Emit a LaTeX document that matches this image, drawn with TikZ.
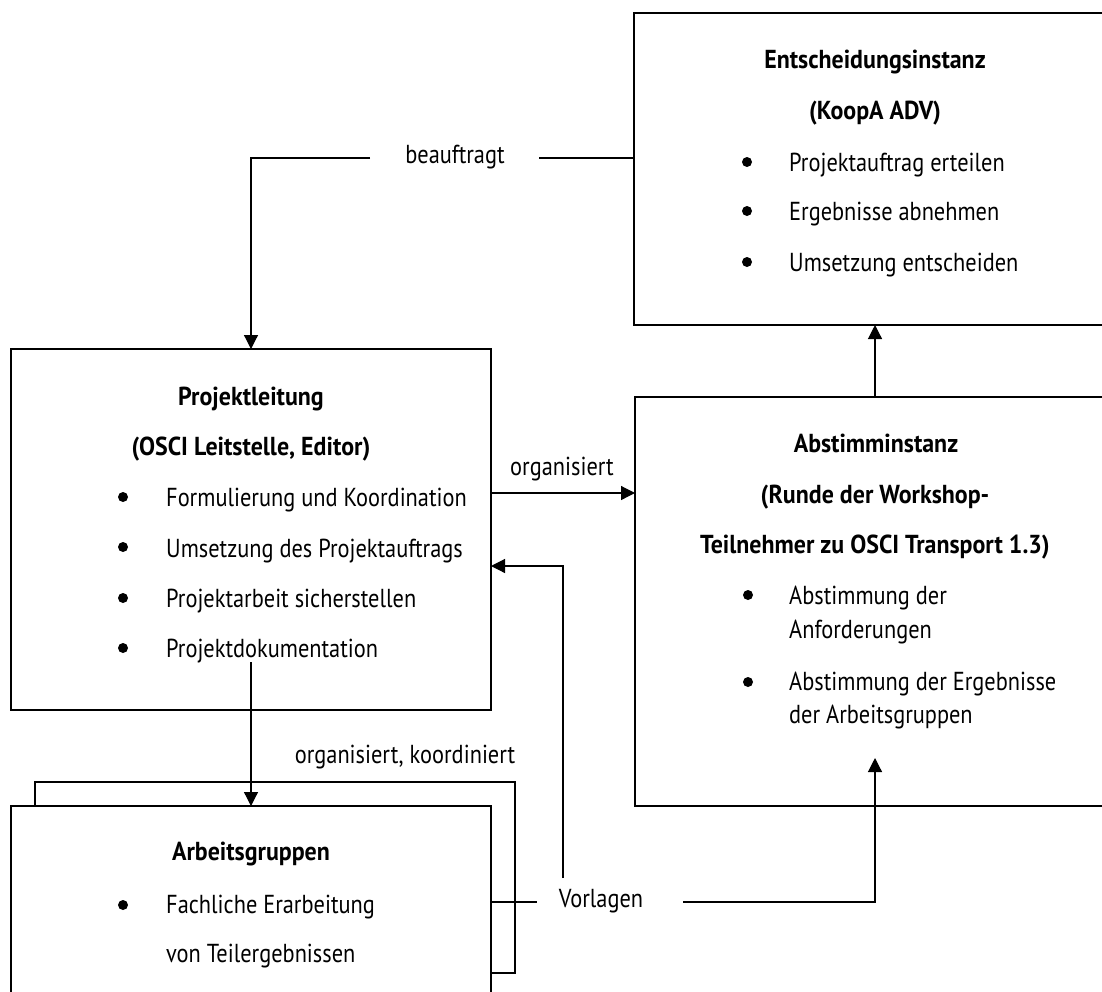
\documentclass[tikz,border=0pt]{standalone}
\usepackage{fontspec}
\setmainfont{PT Sans}[FakeStretch=0.86]
\newfontfamily\ttlfont{PT Sans}[FakeStretch=0.92]
\usetikzlibrary{arrows.meta}
\begin{document}
\begin{tikzpicture}[x=1pt,y=-1pt,
  box/.style={draw, line width=1.2pt, rectangle, inner sep=0pt, outer sep=0pt, anchor=north west, minimum width=480pt},
  conn/.style={line width=1.2pt},
  arr/.style={conn, -{Triangle[length=14pt,width=14pt]}},
  ttl/.style={font=\fontsize{26}{30}\ttlfont\bfseries, inner sep=0pt, anchor=base},
  txt/.style={font=\fontsize{26}{30}\selectfont, inner sep=0pt, anchor=base west},
  lbl/.style={font=\fontsize{26}{30}\selectfont, inner sep=0pt, anchor=base},
  bul/.style={circle, fill, inner sep=0pt, minimum size=10pt}]
\path[use as bounding box] (0,0) rectangle (1102,991);
\clip (0,0) rectangle (1102,991);

% boxes
\node[box, minimum height=312pt] (ent) at (634,13) {};
\node[box, minimum height=361pt] (pl) at (11,349) {};
\node[box, minimum height=409pt] (ab) at (635,397) {};
\node[box, minimum height=191pt] (agb) at (35,782) {};
\node[box, fill=white, minimum height=200pt] (ag) at (11,806) {};

% Entscheidungsinstanz
\node[ttl] (t1) at (875,68) {Entscheidungsinstanz};
\node[ttl] (t2) at (875,119) {(KoopA ADV)};
\node[bul] (eb1) at (747,162) {};
\node[bul] (eb2) at (747,211) {};
\node[bul] (eb3) at (747,262) {};
\node[txt] (e1) at (789,171) {Projektauftrag erteilen};
\node[txt] (e2) at (789,220) {Ergebnisse abnehmen};
\node[txt] (e3) at (789,271) {Umsetzung entscheiden};

% Projektleitung
\node[ttl] (p0) at (251,405) {Projektleitung};
\node[ttl] (p00) at (251,455) {(OSCI Leitstelle, Editor)};
\node[bul] (pb1) at (123,497) {};
\node[bul] (pb2) at (123,547) {};
\node[bul] (pb3) at (123,598) {};
\node[bul] (pb4) at (123,648) {};
\node[txt] (p1) at (166,506) {Formulierung und Koordination};
\node[txt] (p2) at (166,557) {Umsetzung des Projektauftrags};
\node[txt] (p3) at (166,607) {Projektarbeit sicherstellen};
\node[txt] (p4) at (166,657) {Projektdokumentation};

% Abstimminstanz
\node[ttl] (a0) at (876,452) {Abstimminstanz};
\node[ttl] (a00) at (875,503) {(Runde der Workshop-};
\node[ttl] (a000) at (875,553) {Teilnehmer zu OSCI Transport 1.3)};
\node[bul] (ab1) at (748,595) {};
\node[bul] (ab2) at (748,682) {};
\node[txt] (a1) at (789,604) {Abstimmung der};
\node[txt] (a1b) at (789,638) {Anforderungen};
\node[txt] (a2) at (789,690) {Abstimmung der Ergebnisse};
\node[txt] (a2b) at (789,723) {der Arbeitsgruppen};

% Arbeitsgruppen
\node[ttl] (g0) at (251,860) {Arbeitsgruppen};
\node[bul] (gb1) at (123,905) {};
\node[txt] (g1) at (166,913) {Fachliche Erarbeitung};
\node[txt] (g1b) at (166,962) {von Teilergebnissen};

% labels
\node[lbl] (lbeauf) at (455,163) {beauftragt};
\node[lbl] (lorg) at (562,475) {organisiert};
\node[lbl] (lorgk) at (405,763) {organisiert, koordiniert};
\node[lbl] (lvorl) at (601,907) {Vorlagen};

% helper coordinates
\coordinate (yb) at (0,158);
\coordinate (bl) at (370,158);
\coordinate (br) at (539,158);
\coordinate (yo) at (0,493);
\coordinate (ys) at (0,662);
\coordinate (yr) at (0,566);
\coordinate (vu) at (563,878);
\coordinate (yv) at (0,902);
\coordinate (vl) at (537,902);
\coordinate (vr) at (683,902);
\coordinate (yt) at (0,758);

% connectors
\draw[conn] (ent.west |- yb) -- (br);
\draw[arr] (bl) -| (pl.north);
\draw[arr] (pl.east |- yo) -- (ab.west |- yo);
\draw[arr] (ab.north) -- (ab.north |- ent.south);
\draw[arr] (pl.north |- ys) -- (ag.north);
\draw[conn] (ag.east |- yv) -- (vl);
\draw[arr] (vr) -| (ab.north |- yt);
\draw[arr] (vu) |- (pl.east |- yr);
\end{tikzpicture}
\end{document}
